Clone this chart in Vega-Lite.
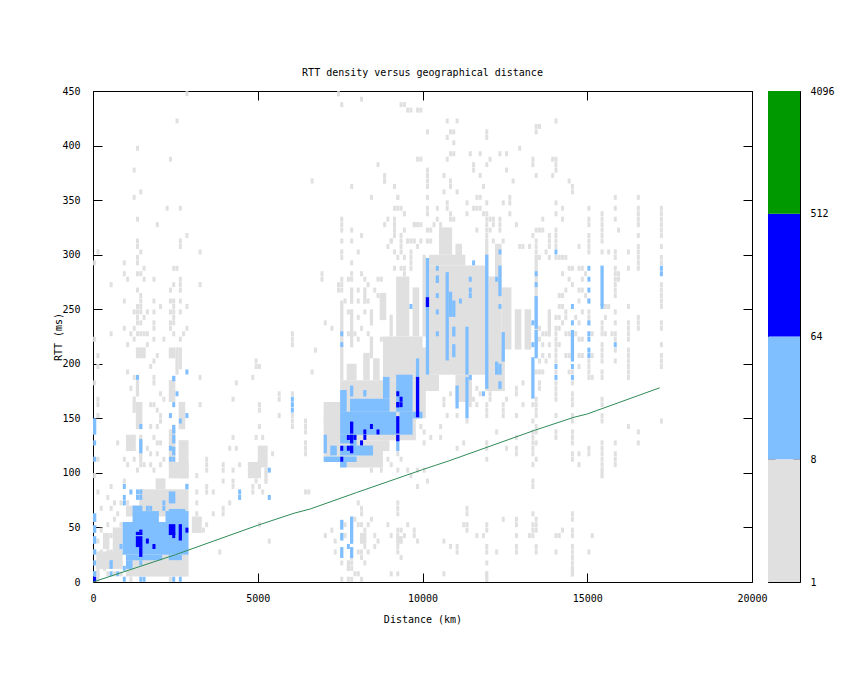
{"$schema":"https://vega.github.io/schema/vega-lite/v6.json","background":"white","padding":{"left":53,"top":67,"right":0,"bottom":0},"spacing":-1,
"config":{"view":{"stroke":"black","strokeWidth":1},"font":"DejaVu Sans Mono","axis":{"grid":false,"domain":false,"zindex":1,"tickColor":"black","labelColor":"black","titleColor":"black","labelFont":"DejaVu Sans Mono","titleFont":"DejaVu Sans Mono","labelFontSize":10,"titleFontSize":10,"titleFontWeight":"normal","labelFlush":false,"labelOverlap":false},"title":{"font":"DejaVu Sans Mono","fontSize":10,"fontWeight":"normal","color":"black"}},
"datasets":{
"gray":[
{"d":2800,"r":445},{"d":2500,"r":420},{"d":1300,"r":395},{"d":2300,"r":385},{"d":1200,"r":375},{"d":6600,"r":365},{"d":1400,"r":355},{"d":1200,"r":350},{"d":2200,"r":340},{"d":2600,"r":340},{"d":1300,"r":330},{"d":1900,"r":325},{"d":2800,"r":315},{"d":1300,"r":305},{"d":1300,"r":310},{"d":2600,"r":310},{"d":2600,"r":305},{"d":100,"r":300},{"d":1400,"r":300},{"d":3200,"r":300},{"d":0,"r":290},{"d":900,"r":290},{"d":1300,"r":295},{"d":1300,"r":290},{"d":1500,"r":285},{"d":1300,"r":280},{"d":1400,"r":280},{"d":900,"r":280},{"d":2400,"r":285},{"d":2500,"r":285},{"d":2600,"r":275},{"d":1000,"r":275},{"d":1500,"r":275},{"d":1800,"r":275},{"d":500,"r":270},{"d":2400,"r":270},{"d":2600,"r":270},{"d":2600,"r":265},{"d":3200,"r":270},{"d":1300,"r":265},{"d":2300,"r":265},{"d":1400,"r":260},{"d":900,"r":255},{"d":1400,"r":255},{"d":1800,"r":255},{"d":2300,"r":255},{"d":2400,"r":255},{"d":2600,"r":255},{"d":1300,"r":250},{"d":1400,"r":250},{"d":2000,"r":250},{"d":2400,"r":250},{"d":2800,"r":250},{"d":1200,"r":245},{"d":1300,"r":245},{"d":1400,"r":245},{"d":1600,"r":245},{"d":1800,"r":245},{"d":2300,"r":245},{"d":2400,"r":245},{"d":2600,"r":245},{"d":1300,"r":240},{"d":1500,"r":240},{"d":2400,"r":240},{"d":1300,"r":235},{"d":1400,"r":235},{"d":1800,"r":235},{"d":2300,"r":235},{"d":2400,"r":235},{"d":900,"r":230},{"d":1200,"r":230},{"d":1800,"r":230},{"d":2300,"r":230},{"d":2800,"r":230},{"d":1400,"r":225},{"d":2400,"r":225},{"d":2700,"r":225},{"d":500,"r":225},{"d":1100,"r":225},{"d":1300,"r":225},{"d":1500,"r":225},{"d":1600,"r":225},{"d":6000,"r":225},{"d":0,"r":220},{"d":1200,"r":220},{"d":1800,"r":220},{"d":2100,"r":220},{"d":2600,"r":220},{"d":6000,"r":220},{"d":1000,"r":215},{"d":1600,"r":215},{"d":6000,"r":215},
{"d":100,"r":205},{"d":100,"r":195},{"d":1000,"r":190},{"d":1200,"r":185},{"d":0,"r":180},{"d":100,"r":165},{"d":100,"r":160},{"d":1100,"r":175},{"d":1700,"r":195},{"d":1800,"r":200},{"d":1900,"r":205},{"d":1800,"r":185},{"d":1800,"r":180},{"d":2000,"r":170},{"d":2100,"r":165},{"d":1700,"r":160},{"d":1800,"r":160},{"d":1900,"r":155},{"d":2000,"r":150},{"d":1700,"r":140},{"d":1900,"r":140},{"d":2000,"r":145},{"d":1800,"r":130},{"d":1900,"r":125},{"d":2000,"r":125},{"d":1600,"r":120},{"d":1700,"r":115},{"d":1900,"r":115},{"d":2100,"r":110},{"d":1500,"r":105},{"d":1700,"r":105},{"d":1800,"r":100},{"d":2000,"r":105},{"d":100,"r":110},{"d":700,"r":125},{"d":900,"r":110},{"d":1000,"r":105},{"d":1200,"r":110},{"d":1300,"r":100},{"d":1400,"r":105},{"d":100,"r":150},{"d":0,"r":95},{"d":500,"r":85},{"d":900,"r":90},{"d":100,"r":80},{"d":400,"r":75},{"d":600,"r":70},{"d":800,"r":70},{"d":1000,"r":70},{"d":200,"r":65},{"d":500,"r":65},{"d":700,"r":60},{"d":800,"r":50},{"d":600,"r":55},{"d":400,"r":50},{"d":200,"r":45},{"d":500,"r":40},{"d":700,"r":40},{"d":100,"r":35},{"d":300,"r":35},{"d":600,"r":30},{"d":200,"r":25},{"d":400,"r":25},{"d":300,"r":20},{"d":500,"r":25},{"d":700,"r":20},{"d":800,"r":15},{"d":100,"r":15},{"d":300,"r":10},{"d":400,"r":5},{"d":600,"r":5},{"d":100,"r":5},{"d":800,"r":5},{"d":1100,"r":0},{"d":1700,"r":5},{"d":2000,"r":5},{"d":2200,"r":5},{"d":2300,"r":0},{"d":2700,"r":5},
{"d":3100,"r":95},{"d":3100,"r":80},{"d":3100,"r":70},{"d":3400,"r":100},{"d":3400,"r":105},{"d":3400,"r":80},{"d":3400,"r":85},{"d":3400,"r":110},{"d":3600,"r":80},{"d":3900,"r":100},{"d":3900,"r":105},{"d":3900,"r":90},{"d":4200,"r":100},{"d":4200,"r":85},{"d":4200,"r":90},{"d":4100,"r":70},{"d":4400,"r":105},{"d":4800,"r":80},{"d":4800,"r":85},{"d":4900,"r":90},{"d":5000,"r":85},{"d":5100,"r":80},{"d":5400,"r":115},{"d":6400,"r":80},{"d":6500,"r":80},{"d":6400,"r":135},{"d":6400,"r":140},{"d":6400,"r":145},{"d":6400,"r":115},{"d":6400,"r":120},{"d":6400,"r":125},{"d":6000,"r":170},{"d":6000,"r":150},{"d":6000,"r":145},{"d":6000,"r":140},{"d":5600,"r":165},{"d":5600,"r":170},{"d":5600,"r":150},{"d":5000,"r":155},{"d":5000,"r":160},{"d":5000,"r":140},{"d":4900,"r":130},{"d":5100,"r":130},{"d":4200,"r":130},{"d":4100,"r":120},{"d":4300,"r":120},{"d":4200,"r":165},{"d":3200,"r":160},{"d":3200,"r":185},{"d":4300,"r":180},{"d":4800,"r":185},{"d":4900,"r":195},{"d":4900,"r":200},{"d":5000,"r":195},{"d":6600,"r":190},{"d":6700,"r":210},{"d":3300,"r":45},{"d":3800,"r":25},{"d":5300,"r":35},{"d":5000,"r":50},{"d":3900,"r":60},{"d":3900,"r":65},{"d":3600,"r":60},{"d":3100,"r":60},{"d":3200,"r":55},{"d":3400,"r":50},{"d":3000,"r":45},
{"d":7400,"r":445},{"d":7500,"r":435},{"d":8100,"r":440},{"d":9300,"r":435},{"d":9500,"r":430},{"d":9800,"r":430},{"d":9800,"r":385},{"d":8600,"r":380},{"d":8800,"r":365},{"d":8800,"r":370},{"d":9100,"r":360},{"d":7800,"r":360},{"d":9200,"r":350},{"d":8400,"r":350},{"d":9200,"r":340},{"d":9100,"r":340},{"d":9400,"r":335},{"d":7500,"r":330},{"d":7500,"r":325},{"d":7500,"r":320},{"d":7800,"r":320},{"d":8800,"r":325},{"d":9100,"r":320},{"d":9100,"r":325},{"d":9100,"r":330},{"d":9700,"r":325},{"d":9800,"r":325},{"d":8100,"r":315},{"d":7800,"r":310},{"d":7500,"r":310},{"d":9000,"r":310},{"d":9300,"r":310},{"d":8900,"r":305},{"d":9300,"r":305},{"d":9500,"r":310},{"d":9600,"r":310},{"d":9800,"r":305},{"d":8000,"r":300},{"d":9100,"r":300},{"d":7500,"r":295},{"d":7500,"r":300},{"d":9600,"r":300},{"d":9600,"r":295},{"d":9600,"r":290},{"d":9600,"r":285},{"d":9300,"r":300},{"d":9200,"r":295},{"d":9400,"r":295},{"d":7800,"r":290},{"d":9100,"r":285},{"d":9300,"r":285},{"d":9400,"r":285},{"d":7800,"r":280},{"d":9400,"r":280},{"d":6900,"r":275},{"d":6900,"r":280},{"d":7500,"r":270},{"d":7500,"r":275},{"d":7700,"r":275},{"d":7800,"r":275},{"d":8100,"r":280},{"d":8200,"r":275},{"d":7400,"r":265},{"d":7500,"r":265},{"d":7400,"r":270},{"d":8600,"r":275},{"d":8700,"r":275},{"d":8300,"r":270},{"d":8000,"r":265},{"d":8500,"r":265},{"d":8600,"r":260},{"d":7600,"r":255},{"d":8000,"r":255},{"d":8300,"r":255},{"d":8200,"r":245},{"d":7700,"r":245},{"d":8000,"r":240},{"d":7000,"r":235},{"d":7200,"r":230},{"d":8100,"r":230},{"d":8300,"r":225},{"d":7700,"r":225},{"d":7900,"r":225},{"d":8700,"r":220},{"d":8000,"r":220},
{"d":9400,"r":435},{"d":9600,"r":430},{"d":9900,"r":430},{"d":10700,"r":420},{"d":11000,"r":420},{"d":14000,"r":420},{"d":10100,"r":410},{"d":10800,"r":410},{"d":10900,"r":410},{"d":11900,"r":410},{"d":11900,"r":405},{"d":10700,"r":405},{"d":13400,"r":410},{"d":13500,"r":415},{"d":13400,"r":415},{"d":10900,"r":400},{"d":12900,"r":395},{"d":10800,"r":390},{"d":10900,"r":390},{"d":11400,"r":390},{"d":11700,"r":390},{"d":12300,"r":390},{"d":12500,"r":390},{"d":10700,"r":385},{"d":13300,"r":385},{"d":13900,"r":385},{"d":9900,"r":385},{"d":11500,"r":380},{"d":12000,"r":385},{"d":11900,"r":380},{"d":13300,"r":380},{"d":14000,"r":375},{"d":14000,"r":380},{"d":14000,"r":385},{"d":10100,"r":375},{"d":11500,"r":375},{"d":12500,"r":375},{"d":10600,"r":370},{"d":11700,"r":370},{"d":13400,"r":370},{"d":13900,"r":370},{"d":8800,"r":365},{"d":10100,"r":360},{"d":10100,"r":365},{"d":10100,"r":370},{"d":10800,"r":365},{"d":12700,"r":365},{"d":14400,"r":365},{"d":9100,"r":360},{"d":14500,"r":360},{"d":10800,"r":360},{"d":10600,"r":355},{"d":11800,"r":360},{"d":14500,"r":355},{"d":11000,"r":355},{"d":9200,"r":350},{"d":10100,"r":350},{"d":11600,"r":350},{"d":11700,"r":350},{"d":12600,"r":350},{"d":12400,"r":345},{"d":12600,"r":345},{"d":10700,"r":345},{"d":11300,"r":345},{"d":11900,"r":345},{"d":14000,"r":345},{"d":15800,"r":350},{"d":16500,"r":350},{"d":9300,"r":340},{"d":10100,"r":340},{"d":10400,"r":340},{"d":10700,"r":340},{"d":11500,"r":340},{"d":11600,"r":340},{"d":11700,"r":340},{"d":11800,"r":335},{"d":11900,"r":335},{"d":14200,"r":340},{"d":15000,"r":340},{"d":15800,"r":340},{"d":16500,"r":340},{"d":17200,"r":340},{"d":17200,"r":335},{"d":17200,"r":330},{"d":9400,"r":335},{"d":10100,"r":335},{"d":10800,"r":335},{"d":11300,"r":335},{"d":14000,"r":335},{"d":12600,"r":335},{"d":15400,"r":335},{"d":16500,"r":335},{"d":8900,"r":330},{"d":9100,"r":325},{"d":10400,"r":330},{"d":10800,"r":330},{"d":10900,"r":330},{"d":11900,"r":330},{"d":12000,"r":330},{"d":12100,"r":330},{"d":12300,"r":330},{"d":13600,"r":330},{"d":14200,"r":330},{"d":15000,"r":330},{"d":15400,"r":330},{"d":15800,"r":330},{"d":16500,"r":330},{"d":9100,"r":320},{"d":9700,"r":325},{"d":9900,"r":325},{"d":10300,"r":325},{"d":10500,"r":325},{"d":11900,"r":325},{"d":12100,"r":325},{"d":12300,"r":325},{"d":12800,"r":325},{"d":15000,"r":325},{"d":15400,"r":325},{"d":16500,"r":325},{"d":17200,"r":320},{"d":17200,"r":325},{"d":9400,"r":320},{"d":10100,"r":320},{"d":10200,"r":320},{"d":10500,"r":320},{"d":11600,"r":320},{"d":11900,"r":320},{"d":12000,"r":320},{"d":12300,"r":320},{"d":13400,"r":320},{"d":13500,"r":320},{"d":13600,"r":320},{"d":14000,"r":320},{"d":15400,"r":320},{"d":15900,"r":320},{"d":9100,"r":315},{"d":9300,"r":315},{"d":10500,"r":315},{"d":11900,"r":315},{"d":13300,"r":315},{"d":13800,"r":315},{"d":14000,"r":315},{"d":15000,"r":315},{"d":15400,"r":315},{"d":16500,"r":315},{"d":17200,"r":315},{"d":9000,"r":310},{"d":9500,"r":310},{"d":9700,"r":310},{"d":9900,"r":310},{"d":10100,"r":310},{"d":10200,"r":310},{"d":12100,"r":310},{"d":12400,"r":310},{"d":12900,"r":305},{"d":13000,"r":305},{"d":13200,"r":305},{"d":13400,"r":310},{"d":13800,"r":310},{"d":14000,"r":310},{"d":14700,"r":305},{"d":15000,"r":310},{"d":15400,"r":310},{"d":16500,"r":305},{"d":17200,"r":305},{"d":13400,"r":305},{"d":13800,"r":305},{"d":14000,"r":305},{"d":15000,"r":305},{"d":15000,"r":300},{"d":15400,"r":300},{"d":15600,"r":300},{"d":15800,"r":300},{"d":16200,"r":300},{"d":16500,"r":300},{"d":13700,"r":300},{"d":13800,"r":295},{"d":13400,"r":300},{"d":13500,"r":295},{"d":14000,"r":295},{"d":14100,"r":295},{"d":14200,"r":295},{"d":14300,"r":295},{"d":15800,"r":295},{"d":16500,"r":290},{"d":16500,"r":295},{"d":16500,"r":285},{"d":17200,"r":295},{"d":17200,"r":290},{"d":16200,"r":285},{"d":14400,"r":285},{"d":14500,"r":285},{"d":14700,"r":285},{"d":14800,"r":285},{"d":15800,"r":285},{"d":15900,"r":280},{"d":15800,"r":280},{"d":14200,"r":280},{"d":14400,"r":275},{"d":14800,"r":275},{"d":14900,"r":280},{"d":15800,"r":275},{"d":15900,"r":275},{"d":14500,"r":270},{"d":14300,"r":265},{"d":14700,"r":265},{"d":14800,"r":265},{"d":15800,"r":265},{"d":15800,"r":270},{"d":17200,"r":265},{"d":17200,"r":270},{"d":14100,"r":260},{"d":14200,"r":260},{"d":14700,"r":255},{"d":14900,"r":260},{"d":15000,"r":255},{"d":15800,"r":260},{"d":17200,"r":255},{"d":17200,"r":250},{"d":17200,"r":260},{"d":14100,"r":250},{"d":14200,"r":250},{"d":14300,"r":245},{"d":14800,"r":245},{"d":15000,"r":245},{"d":15500,"r":250},{"d":15600,"r":250},{"d":16200,"r":250},{"d":14000,"r":240},{"d":14100,"r":240},{"d":14300,"r":240},{"d":14600,"r":240},{"d":15000,"r":240},{"d":15500,"r":240},{"d":15800,"r":245},{"d":16500,"r":240},{"d":14200,"r":235},{"d":14700,"r":235},{"d":15000,"r":235},{"d":15400,"r":235},{"d":15800,"r":235},{"d":16200,"r":235},{"d":16500,"r":235},{"d":17200,"r":235},{"d":14000,"r":230},{"d":14100,"r":230},{"d":15400,"r":230},{"d":16200,"r":230},{"d":16500,"r":230},{"d":17200,"r":230},
{"d":13500,"r":230},{"d":13600,"r":225},{"d":13700,"r":225},{"d":13500,"r":220},{"d":13600,"r":215},{"d":14000,"r":225},{"d":14000,"r":220},{"d":14300,"r":225},{"d":14400,"r":225},{"d":14600,"r":225},{"d":14700,"r":220},{"d":14800,"r":220},{"d":15100,"r":225},{"d":15400,"r":225},{"d":15500,"r":225},{"d":15700,"r":225},{"d":15800,"r":225},{"d":15800,"r":220},{"d":16200,"r":225},{"d":16200,"r":220},{"d":14100,"r":215},{"d":14000,"r":215},{"d":13800,"r":215},{"d":15400,"r":215},{"d":15400,"r":210},{"d":15800,"r":210},{"d":16200,"r":210},{"d":17200,"r":215},{"d":14000,"r":210},{"d":14300,"r":205},{"d":14700,"r":205},{"d":15100,"r":205},{"d":15400,"r":205},{"d":14000,"r":205},{"d":13600,"r":205},{"d":13800,"r":205},{"d":13700,"r":200},{"d":14400,"r":205},{"d":14800,"r":205},{"d":15000,"r":200},{"d":14000,"r":200},{"d":15400,"r":200},{"d":15800,"r":200},{"d":16200,"r":200},{"d":16200,"r":205},{"d":17200,"r":205},{"d":17200,"r":200},{"d":17200,"r":195},{"d":13500,"r":200},{"d":14000,"r":190},{"d":14700,"r":195},{"d":15000,"r":195},{"d":15000,"r":190},{"d":16200,"r":195},{"d":16200,"r":190},{"d":16200,"r":185},{"d":13500,"r":190},{"d":13600,"r":190},{"d":13400,"r":190},{"d":14400,"r":190},{"d":14500,"r":190},{"d":15400,"r":190},{"d":15400,"r":185},{"d":15100,"r":185},{"d":15000,"r":185},{"d":14500,"r":180},{"d":14000,"r":180},{"d":14000,"r":175},{"d":14000,"r":170},{"d":13500,"r":180},{"d":13500,"r":175},{"d":14500,"r":170},{"d":14500,"r":165},{"d":14000,"r":165},{"d":14500,"r":160},{"d":13400,"r":165},{"d":13300,"r":160},{"d":13400,"r":160},{"d":13400,"r":155},{"d":15400,"r":165},{"d":15400,"r":160},{"d":15400,"r":150},{"d":15400,"r":145},{"d":14000,"r":150},{"d":14500,"r":150},{"d":14500,"r":145},{"d":13400,"r":150},{"d":17200,"r":145},{"d":16200,"r":140},{"d":16500,"r":135},{"d":16500,"r":125},{"d":13300,"r":130},{"d":13300,"r":135},{"d":13400,"r":135},{"d":13400,"r":140},{"d":14000,"r":135},{"d":14000,"r":130},{"d":14500,"r":135},{"d":14500,"r":130},{"d":14500,"r":125},{"d":13300,"r":125},{"d":13300,"r":120},{"d":13400,"r":125},{"d":13300,"r":115},{"d":13400,"r":110},{"d":15400,"r":125},{"d":15400,"r":120},{"d":15400,"r":115},{"d":15400,"r":110},{"d":15400,"r":105},{"d":15000,"r":120},{"d":15000,"r":115},{"d":15800,"r":125},{"d":15800,"r":115},{"d":15800,"r":110},{"d":15800,"r":105},{"d":14700,"r":115},{"d":14700,"r":105},{"d":14500,"r":115},{"d":14500,"r":110},{"d":13300,"r":105},{"d":13300,"r":85},{"d":13300,"r":90},{"d":13300,"r":60},{"d":13400,"r":55},{"d":13400,"r":50},{"d":13300,"r":45},{"d":13400,"r":45},{"d":13300,"r":40},{"d":14500,"r":60},{"d":14500,"r":55},{"d":14500,"r":45},{"d":14500,"r":40},{"d":14500,"r":30},{"d":14500,"r":25},{"d":14500,"r":20},{"d":14500,"r":15},{"d":14000,"r":40},{"d":14000,"r":25},{"d":14200,"r":45},{"d":14100,"r":40},{"d":15100,"r":40},{"d":15000,"r":25},{"d":13400,"r":25},{"d":13400,"r":30},
{"d":7500,"r":15},{"d":7500,"r":0},{"d":7800,"r":20},{"d":7800,"r":15},{"d":7800,"r":10},{"d":7900,"r":5},{"d":7700,"r":0},{"d":7800,"r":0},{"d":8100,"r":0},{"d":8000,"r":5},{"d":7000,"r":40},{"d":7200,"r":45},{"d":7300,"r":35},{"d":7300,"r":25},{"d":7600,"r":50},{"d":7600,"r":40},{"d":7900,"r":55},{"d":8000,"r":50},{"d":8100,"r":50},{"d":8200,"r":45},{"d":8100,"r":60},{"d":8000,"r":70},{"d":8100,"r":65},{"d":8300,"r":50},{"d":8400,"r":55},{"d":8500,"r":40},{"d":8600,"r":35},{"d":8500,"r":30},{"d":8000,"r":25},{"d":8100,"r":25},{"d":8200,"r":30},{"d":8300,"r":25},{"d":8100,"r":20},{"d":8200,"r":15},{"d":8900,"r":50},{"d":9000,"r":40},{"d":9200,"r":60},{"d":9200,"r":65},{"d":9200,"r":70},{"d":9200,"r":45},{"d":9200,"r":40},{"d":9300,"r":45},{"d":9400,"r":40},{"d":9200,"r":30},{"d":9200,"r":25},{"d":9300,"r":20},{"d":9200,"r":5},{"d":9500,"r":50},{"d":9700,"r":45},{"d":9700,"r":40},{"d":9800,"r":35},{"d":10600,"r":35},{"d":10800,"r":30},{"d":11000,"r":30},{"d":11000,"r":25},{"d":11300,"r":60},{"d":11300,"r":65},{"d":11300,"r":50},{"d":11300,"r":45},{"d":11200,"r":50},{"d":11600,"r":40},{"d":11900,"r":50},{"d":11900,"r":45},{"d":11800,"r":40},{"d":11900,"r":30},{"d":11900,"r":25},{"d":11900,"r":15},{"d":12400,"r":55},{"d":12800,"r":55},{"d":12800,"r":50},{"d":12800,"r":40},{"d":12800,"r":30},{"d":12800,"r":25},{"d":12200,"r":25},{"d":13300,"r":50},{"d":13200,"r":40},{"d":10600,"r":5},{"d":9000,"r":5},
{"d":8000,"r":105},{"d":8400,"r":100},{"d":8700,"r":100},{"d":8900,"r":110},{"d":9000,"r":105},{"d":9200,"r":100},{"d":9500,"r":100},{"d":9600,"r":95},{"d":9200,"r":115},{"d":9300,"r":110},{"d":9800,"r":100},{"d":10000,"r":100},{"d":10100,"r":90},{"d":9800,"r":85},{"d":11000,"r":120},{"d":11200,"r":125},{"d":11900,"r":125},{"d":11900,"r":120},{"d":11900,"r":110},{"d":12500,"r":120},{"d":12800,"r":115},{"d":12800,"r":120},{"d":12800,"r":130},{"d":12200,"r":135},{"d":11900,"r":150},{"d":11900,"r":155},{"d":11900,"r":160},{"d":12400,"r":155},{"d":12400,"r":150},{"d":12400,"r":160},{"d":12500,"r":165},{"d":10500,"r":130},{"d":10500,"r":140},{"d":10200,"r":130},{"d":10000,"r":135},{"d":10000,"r":125},{"d":9900,"r":140},{"d":10600,"r":160},{"d":10600,"r":165},{"d":10700,"r":150},{"d":11000,"r":150},{"d":10800,"r":170},{"d":11600,"r":160},{"d":11700,"r":170},{"d":11600,"r":175},{"d":11500,"r":165},{"d":11400,"r":160},{"d":11300,"r":145},{"d":12000,"r":170},{"d":12000,"r":165},{"d":12800,"r":170},{"d":12800,"r":175},{"d":13000,"r":160},{"d":13000,"r":180},{"d":13300,"r":145},{"d":12800,"r":150}
],
"blocks":[
{"d":1300,"e":1600,"r":205,"s":215,"c":"g"},{"d":1300,"e":1400,"r":170,"s":185,"c":"g"},{"d":1300,"e":1500,"r":140,"s":165,"c":"g"},{"d":1200,"e":1300,"r":155,"s":170,"c":"g"},{"d":1000,"e":1300,"r":120,"s":135,"c":"g"},{"d":1400,"e":1500,"r":110,"s":135,"c":"g"},{"d":2300,"e":2500,"r":205,"s":215,"c":"g"},{"d":2300,"e":2500,"r":165,"s":185,"c":"g"},{"d":2500,"e":2600,"r":190,"s":215,"c":"g"},{"d":2600,"e":2700,"r":195,"s":215,"c":"g"},{"d":2600,"e":2800,"r":140,"s":165,"c":"g"},{"d":2300,"e":2500,"r":105,"s":140,"c":"g"},{"d":2600,"e":2900,"r":95,"s":130,"c":"g"},{"d":2300,"e":2900,"r":95,"s":110,"c":"g"},{"d":1900,"e":2200,"r":85,"s":95,"c":"g"},{"d":1400,"e":2900,"r":60,"s":85,"c":"g"},{"d":1000,"e":1400,"r":60,"s":70,"c":"g"},{"d":1000,"e":2900,"r":5,"s":25,"c":"g"},{"d":100,"e":900,"r":12,"s":28,"c":"g"},{"d":600,"e":900,"r":25,"s":50,"c":"g"},{"d":300,"e":500,"r":30,"s":45,"c":"g"},{"d":100,"e":200,"r":0,"s":15,"c":"g"},{"d":3000,"e":3300,"r":45,"s":60,"c":"g"},{"d":4700,"e":5100,"r":95,"s":110,"c":"g"},{"d":5000,"e":5300,"r":105,"s":125,"c":"g"},{"d":5200,"e":5300,"r":90,"s":105,"c":"g"},
{"d":7500,"e":9800,"r":130,"s":185,"c":"g"},{"d":7000,"e":7500,"r":115,"s":150,"c":"g"},{"d":7500,"e":8800,"r":105,"s":130,"c":"g"},{"d":8800,"e":9000,"r":120,"s":130,"c":"g"},{"d":7000,"e":7800,"r":145,"s":165,"c":"g"},{"d":7700,"e":8000,"r":185,"s":200,"c":"g"},{"d":8200,"e":8400,"r":185,"s":210,"c":"g"},{"d":8500,"e":8700,"r":185,"s":205,"c":"g"},{"d":8800,"e":10000,"r":185,"s":225,"c":"g"},{"d":9800,"e":10100,"r":150,"s":190,"c":"g"},{"d":10000,"e":10500,"r":175,"s":190,"c":"g"},{"d":9900,"e":11900,"r":190,"s":215,"c":"g"},{"d":11900,"e":12500,"r":175,"s":215,"c":"g"},{"d":11000,"e":11500,"r":165,"s":190,"c":"g"},{"d":9200,"e":9600,"r":225,"s":280,"c":"g"},{"d":9700,"e":9900,"r":225,"s":270,"c":"g"},{"d":10000,"e":10100,"r":225,"s":300,"c":"g"},{"d":10200,"e":12000,"r":213,"s":290,"c":"g"},{"d":10200,"e":11300,"r":290,"s":300,"c":"g"},{"d":10500,"e":10900,"r":300,"s":325,"c":"g"},{"d":11000,"e":11200,"r":295,"s":310,"c":"g"},{"d":11900,"e":12000,"r":290,"s":315,"c":"g"},{"d":12000,"e":12400,"r":213,"s":280,"c":"g"},{"d":12200,"e":12400,"r":280,"s":310,"c":"g"},{"d":12400,"e":12700,"r":213,"s":270,"c":"g"},{"d":12800,"e":13000,"r":213,"s":250,"c":"g"},{"d":13100,"e":13300,"r":213,"s":250,"c":"g"},{"d":13400,"e":13500,"r":215,"s":300,"c":"g"},{"d":13800,"e":13900,"r":225,"s":250,"c":"g"},{"d":7500,"e":7600,"r":215,"s":258,"c":"g"},{"d":7800,"e":7900,"r":255,"s":270,"c":"g"},{"d":7800,"e":7900,"r":215,"s":250,"c":"g"},{"d":8200,"e":8300,"r":255,"s":270,"c":"g"},{"d":8400,"e":8500,"r":235,"s":250,"c":"g"},{"d":8700,"e":8900,"r":240,"s":265,"c":"g"},{"d":9000,"e":9100,"r":225,"s":245,"c":"g"},{"d":8400,"e":8500,"r":205,"s":225,"c":"g"},{"d":7500,"e":7600,"r":185,"s":215,"c":"g"},{"d":8100,"e":8300,"r":35,"s":45,"c":"g"},{"d":7700,"e":7800,"r":10,"s":20,"c":"g"},{"d":9200,"e":9400,"r":35,"s":42,"c":"g"},{"d":11900,"e":12000,"r":0,"s":10,"c":"g"},{"d":14500,"e":14600,"r":5,"s":15,"c":"g"},{"d":15400,"e":15500,"r":95,"s":105,"c":"g"},
{"d":900,"e":2900,"r":25,"s":55,"c":"l"},{"d":1200,"e":2000,"r":55,"s":65,"c":"l"},{"d":2200,"e":2900,"r":55,"s":65,"c":"l"},{"d":1000,"e":2100,"r":20,"s":25,"c":"l"},{"d":2300,"e":2700,"r":20,"s":25,"c":"l"},{"d":1000,"e":1200,"r":12,"s":20,"c":"l"},{"d":2300,"e":2500,"r":72,"s":83,"c":"l"},{"d":1200,"e":1500,"r":65,"s":70,"c":"l"},{"d":2300,"e":2800,"r":63,"s":67,"c":"l"},{"d":0,"e":100,"r":55,"s":63,"c":"l"},{"d":0,"e":100,"r":45,"s":52,"c":"l"},{"d":0,"e":100,"r":35,"s":42,"c":"l"},{"d":0,"e":100,"r":25,"s":30,"c":"l"},{"d":0,"e":100,"r":5,"s":10,"c":"l"},{"d":0,"e":100,"r":135,"s":150,"c":"l"},{"d":500,"e":600,"r":12,"s":20,"c":"l"},{"d":2400,"e":2500,"r":136,"s":144,"c":"l"},{"d":2400,"e":2500,"r":127,"s":135,"c":"l"},{"d":2400,"e":2500,"r":116,"s":124,"c":"l"},{"d":2400,"e":2500,"r":184,"s":189,"c":"l"},{"d":1400,"e":1500,"r":118,"s":131,"c":"l"},{"d":2800,"e":2900,"r":85,"s":90,"c":"l"},
{"d":7500,"e":9200,"r":135,"s":156,"c":"l"},{"d":9300,"e":9700,"r":135,"s":156,"c":"l"},{"d":7800,"e":9000,"r":156,"s":168,"c":"l"},{"d":7500,"e":7700,"r":156,"s":176,"c":"l"},{"d":9200,"e":9700,"r":156,"s":190,"c":"l"},{"d":8800,"e":9000,"r":168,"s":188,"c":"l"},{"d":9700,"e":10000,"r":150,"s":156,"c":"l"},{"d":7000,"e":7100,"r":118,"s":135,"c":"l"},{"d":7200,"e":7400,"r":116,"s":125,"c":"l"},{"d":7500,"e":8500,"r":116,"s":125,"c":"l"},{"d":7500,"e":7800,"r":127,"s":135,"c":"l"},{"d":7800,"e":8000,"r":125,"s":135,"c":"l"},{"d":7000,"e":8000,"r":110,"s":115,"c":"l"},{"d":7500,"e":7700,"r":105,"s":110,"c":"l"},{"d":9200,"e":9300,"r":120,"s":135,"c":"l"},{"d":9800,"e":9900,"r":150,"s":205,"c":"l"},{"d":7800,"e":7900,"r":170,"s":180,"c":"l"},{"d":8200,"e":8300,"r":170,"s":176,"c":"l"},
{"d":7500,"e":7600,"r":48,"s":57,"c":"l"},{"d":7500,"e":7600,"r":38,"s":45,"c":"l"},{"d":7500,"e":7600,"r":22,"s":32,"c":"l"},{"d":7800,"e":7900,"r":35,"s":60,"c":"l"},{"d":7800,"e":7900,"r":22,"s":32,"c":"l"},
{"d":10100,"e":10200,"r":190,"s":297,"c":"l"},{"d":10700,"e":10800,"r":203,"s":284,"c":"l"},{"d":10800,"e":10900,"r":243,"s":266,"c":"l"},{"d":10900,"e":11000,"r":243,"s":258,"c":"l"},{"d":10900,"e":11000,"r":225,"s":234,"c":"l"},{"d":10900,"e":11000,"r":206,"s":218,"c":"l"},{"d":11000,"e":11100,"r":159,"s":180,"c":"l"},{"d":11300,"e":11400,"r":150,"s":188,"c":"l"},{"d":11300,"e":11400,"r":190,"s":234,"c":"l"},{"d":11900,"e":12000,"r":177,"s":300,"c":"l"},{"d":12300,"e":12400,"r":262,"s":290,"c":"l"},{"d":12400,"e":12500,"r":202,"s":229,"c":"l"},{"d":12200,"e":12300,"r":190,"s":202,"c":"l"},{"d":12300,"e":12400,"r":190,"s":200,"c":"l"},{"d":12300,"e":12400,"r":177,"s":184,"c":"l"},{"d":13400,"e":13500,"r":205,"s":231,"c":"l"},{"d":13400,"e":13500,"r":232,"s":262,"c":"l"},{"d":13300,"e":13400,"r":168,"s":206,"c":"l"},{"d":14500,"e":14600,"r":202,"s":231,"c":"l"},{"d":15400,"e":15500,"r":253,"s":290,"c":"l"},{"d":10400,"e":10500,"r":274,"s":281,"c":"l"},
{"d":7800,"e":7900,"r":136,"s":147,"c":"b"},{"d":7800,"e":7900,"r":127,"s":135,"c":"b"},{"d":7800,"e":7900,"r":118,"s":125,"c":"b"},{"d":9200,"e":9300,"r":136,"s":152,"c":"b"},{"d":9200,"e":9300,"r":129,"s":135,"c":"b"},{"d":9200,"e":9300,"r":160,"s":165,"c":"b"},{"d":9800,"e":9900,"r":151,"s":188,"c":"b"},{"d":10100,"e":10200,"r":252,"s":261,"c":"b"},{"d":1300,"e":1500,"r":32,"s":42,"c":"b"},{"d":1400,"e":1500,"r":23,"s":32,"c":"b"},{"d":2300,"e":2500,"r":43,"s":53,"c":"b"},{"d":2600,"e":2700,"r":38,"s":53,"c":"b"},{"d":1300,"e":1500,"r":43,"s":46,"c":"b"},{"d":1400,"e":1500,"r":46,"s":48,"c":"b"}
],
"cells":[
{"d":2500,"r":170,"c":"l"},{"d":0,"r":125,"c":"l"},{"d":0,"r":110,"c":"l"},{"d":0,"r":15,"c":"l"},{"d":2400,"r":160,"c":"l"},{"d":1400,"r":140,"c":"l"},{"d":1300,"r":185,"c":"l"},{"d":2800,"r":190,"c":"l"},{"d":2800,"r":150,"c":"l"},{"d":2300,"r":150,"c":"l"},{"d":2300,"r":120,"c":"l"},{"d":2300,"r":110,"c":"l"},{"d":2400,"r":110,"c":"l"},{"d":2600,"r":145,"c":"l"},{"d":900,"r":85,"c":"l"},{"d":900,"r":70,"c":"l"},{"d":900,"r":75,"c":"l"},{"d":1100,"r":80,"c":"l"},{"d":1300,"r":80,"c":"l"},{"d":1400,"r":80,"c":"l"},{"d":1300,"r":75,"c":"l"},{"d":1400,"r":75,"c":"l"},{"d":2100,"r":65,"c":"l"},{"d":2100,"r":70,"c":"l"},{"d":1600,"r":65,"c":"l"},{"d":1700,"r":65,"c":"l"},{"d":800,"r":30,"c":"l"},{"d":900,"r":10,"c":"l"},{"d":700,"r":5,"c":"l"},{"d":500,"r":5,"c":"l"},{"d":900,"r":0,"c":"l"},{"d":1400,"r":0,"c":"l"},{"d":1500,"r":0,"c":"l"},{"d":2400,"r":0,"c":"l"},{"d":2600,"r":0,"c":"l"},{"d":1400,"r":15,"c":"l"},{"d":4400,"r":80,"c":"l"},{"d":4400,"r":75,"c":"l"},{"d":5300,"r":100,"c":"l"},{"d":5300,"r":75,"c":"l"},{"d":6000,"r":160,"c":"l"},{"d":6000,"r":165,"c":"l"},{"d":6000,"r":155,"c":"l"},{"d":7700,"r":30,"c":"l"},{"d":7500,"r":225,"c":"l"},{"d":7500,"r":215,"c":"l"},{"d":9600,"r":250,"c":"l"},{"d":10400,"r":285,"c":"l"},{"d":10400,"r":260,"c":"l"},{"d":10400,"r":245,"c":"l"},{"d":10400,"r":225,"c":"l"},{"d":11100,"r":255,"c":"l"},{"d":11400,"r":275,"c":"l"},{"d":11400,"r":265,"c":"l"},{"d":11400,"r":260,"c":"l"},{"d":11500,"r":290,"c":"l"},{"d":12200,"r":275,"c":"l"},{"d":12300,"r":300,"c":"l"},{"d":12300,"r":250,"c":"l"},{"d":11800,"r":170,"c":"l"},{"d":11400,"r":185,"c":"l"},{"d":13300,"r":235,"c":"l"},{"d":13300,"r":215,"c":"l"},{"d":13400,"r":280,"c":"l"},{"d":13400,"r":270,"c":"l"},{"d":14000,"r":195,"c":"l"},{"d":14000,"r":185,"c":"l"},{"d":14500,"r":215,"c":"l"},{"d":14500,"r":195,"c":"l"},{"d":14500,"r":185,"c":"l"},{"d":14500,"r":250,"c":"l"},{"d":14500,"r":235,"c":"l"},{"d":15000,"r":225,"c":"l"},{"d":15000,"r":220,"c":"l"},{"d":15000,"r":210,"c":"l"},{"d":15000,"r":205,"c":"l"},{"d":15000,"r":285,"c":"l"},{"d":15000,"r":275,"c":"l"},{"d":15000,"r":265,"c":"l"},{"d":15000,"r":255,"c":"l"},{"d":15000,"r":235,"c":"l"},{"d":15400,"r":250,"c":"l"},{"d":15800,"r":215,"c":"l"},{"d":17200,"r":285,"c":"l"},{"d":17200,"r":280,"c":"l"},{"d":14000,"r":300,"c":"l"},
{"d":0,"r":0,"c":"b"},{"d":1600,"r":35,"c":"b"},{"d":1800,"r":30,"c":"b"},{"d":2800,"r":45,"c":"b"},{"d":2400,"r":40,"c":"b"},{"d":7700,"r":130,"c":"b"},{"d":7900,"r":130,"c":"b"},{"d":7500,"r":120,"c":"b"},{"d":7700,"r":120,"c":"b"},{"d":7500,"r":110,"c":"b"},{"d":8100,"r":125,"c":"b"},{"d":8200,"r":135,"c":"b"},{"d":8200,"r":130,"c":"b"},{"d":8400,"r":140,"c":"b"},{"d":8600,"r":135,"c":"b"},{"d":9200,"r":170,"c":"b"},{"d":9300,"r":165,"c":"b"},{"d":9300,"r":160,"c":"b"}
],
"line":[{"d":0,"r":0},{"d":2500,"r":25},{"d":5000,"r":52},{"d":6100,"r":63},{"d":6600,"r":67},{"d":8000,"r":82},{"d":10000,"r":103},{"d":10400,"r":107},{"d":10800,"r":111},{"d":13400,"r":139},{"d":14600,"r":151},{"d":15000,"r":154},{"d":17200,"r":178}],
"bar":[{"lo":1,"hi":8,"c":"g"},{"lo":8,"hi":64,"c":"l"},{"lo":64,"hi":512,"c":"b"},{"lo":512,"hi":4096,"c":"n"}]
},
"hconcat":[
{"width":659,"height":491,"title":{"text":"RTT density versus geographical distance","offset":8},
"resolve":{"axis":{"x":"independent","y":"independent"}},
"layer":[
{"data":{"name":"gray"},"mark":{"type":"rect","width":3,"height":5,"xOffset":1.65,"yOffset":-2.75,"color":"#e0e0e0"},
"encoding":{"x":{"field":"d","type":"quantitative","scale":{"domain":[0,20000],"nice":false},"title":"Distance (km)","axis":{"orient":"bottom","values":[0,5000,10000,15000,20000],"format":"d","tickSize":-9,"labelPadding":20,"titlePadding":11}},
"y":{"field":"r","type":"quantitative","scale":{"domain":[0,450],"nice":false},"title":"RTT (ms)","axis":{"orient":"left","values":[0,50,100,150,200,250,300,350,400,450],"tickSize":-9,"labelPadding":22,"titlePadding":-2}}}},
{"data":{"name":"blocks"},"mark":{"type":"rect"},
"encoding":{"x":{"field":"d","type":"quantitative","scale":{"domain":[0,20000],"nice":false},"axis":{"orient":"top","values":[0,5000,10000,15000,20000],"labels":false,"tickSize":-9,"title":null}},"x2":{"field":"e"},
"y":{"field":"r","type":"quantitative","scale":{"domain":[0,450],"nice":false},"axis":{"orient":"right","values":[0,50,100,150,200,250,300,350,400,450],"labels":false,"tickSize":-9,"title":null}},"y2":{"field":"s"},
"color":{"field":"c","type":"nominal","legend":null,"scale":{"domain":["g","l","b","n"],"range":["#e0e0e0","#80bfff","#0000ff","#009900"]}}}},
{"data":{"name":"cells"},"mark":{"type":"rect","width":3,"height":5,"xOffset":1.65,"yOffset":-2.75},
"encoding":{"x":{"field":"d","type":"quantitative","scale":{"domain":[0,20000],"nice":false},"axis":null},"y":{"field":"r","type":"quantitative","scale":{"domain":[0,450],"nice":false},"axis":null},
"color":{"field":"c","type":"nominal","legend":null,"scale":{"domain":["g","l","b","n"],"range":["#e0e0e0","#80bfff","#0000ff","#009900"]}}}},
{"data":{"name":"line"},"mark":{"type":"line","color":"#2e8b57","strokeWidth":1},
"encoding":{"x":{"field":"d","type":"quantitative","scale":{"domain":[0,20000],"nice":false},"axis":null},"y":{"field":"r","type":"quantitative","scale":{"domain":[0,450],"nice":false},"axis":null}}}
]},
{"width":32,"height":491,"data":{"name":"bar"},
"mark":{"type":"rect"},"encoding":{
"y":{"field":"lo","type":"quantitative","scale":{"type":"log","base":2,"domain":[1,4096],"nice":false},"axis":{"orient":"right","values":[1,8,64,512,4096],"format":"d","tickSize":0,"labelPadding":10,"title":null,"grid":true,"gridColor":"black","gridDash":[7,18,7],"gridOpacity":1}},"y2":{"field":"hi"},
"color":{"field":"c","type":"nominal","legend":null,"scale":{"domain":["g","l","b","n"],"range":["#e0e0e0","#80bfff","#0000ff","#009900"]}}}}
]}
